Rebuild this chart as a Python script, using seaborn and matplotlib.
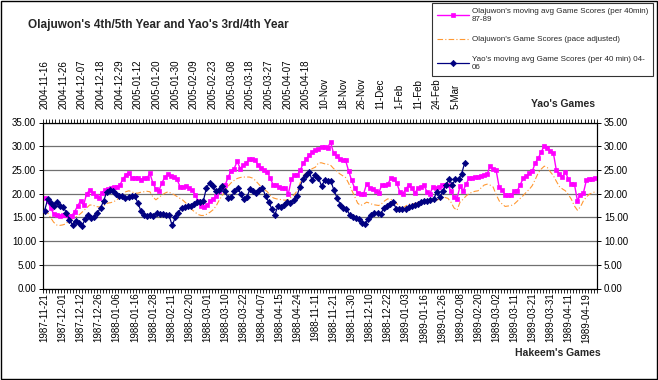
import numpy as np
import pandas as pd
import matplotlib
matplotlib.use('Agg')
import matplotlib.pyplot as plt
import seaborn as sns
from matplotlib.patches import Rectangle

# category labels (every 6th game)
hakeem_dates = ['1987-11-21', '1987-12-01', '1987-12-12', '1987-12-26', '1988-01-06',
                '1988-01-16', '1988-01-28', '1988-02-11', '1988-02-20', '1988-03-01',
                '1988-03-10', '1988-03-22', '1988-04-07', '1988-04-15', '1988-04-24',
                '1988-11-11', '1988-11-21', '1988-11-30', '1988-12-10', '1988-12-22',
                '1989-01-03', '1989-01-16', '1989-01-26', '1989-02-08', '1989-02-20',
                '1989-03-02', '1989-03-11', '1989-03-21', '1989-03-31', '1989-04-11',
                '1989-04-19']
yao_dates = ['2004-11-16', '2004-11-26', '2004-12-07', '2004-12-18', '2004-12-29',
             '2005-01-12', '2005-01-20', '2005-01-30', '2005-02-09', '2005-02-23',
             '2005-03-08', '2005-03-18', '2005-03-27', '2005-04-07', '2005-04-18',
             '10-Nov', '18-Nov', '26-Nov', '11-Dec', '1-Feb', '11-Feb', '24-Feb', '5-Mar']
n_yao_axis = 178

# Olajuwon moving avg game scores (per 40 min) 87-89
hakeem_avg = [19.1, 18.4, 17.0, 15.8, 15.4, 15.2, 15.5, 15.6, 15.3, 15.3, 16.2, 17.4, 18.5, 17.6,
              20.0, 20.7, 20.2, 19.5, 19.0, 20.2, 20.7, 21.0, 21.2,
              21.3, 21.5, 21.8, 23.0, 24.0, 24.4, 23.4, 23.3, 23.4, 22.9, 23.4, 23.2, 24.3, 22.2,
              21.0, 20.6, 22.3, 23.5, 24.1, 23.8, 23.5, 23.0,
              21.5, 21.5, 21.6, 21.2, 20.8, 19.8, 18.5, 17.5, 17.2, 17.6, 18.5, 18.8, 19.5, 20.5,
              21.3, 21.8, 23.5, 24.8, 25.3, 26.8, 25.3, 26.0,
              26.5, 27.3, 27.4, 27.0, 26.0, 25.4, 24.9, 24.6, 23.2, 21.8, 21.8, 21.4, 21.1, 21.1,
              20.0, 23.0, 23.9, 24.0, 25.0, 26.5, 27.4, 28.2, 28.8, 29.2, 29.4, 29.9, 29.8, 29.6,
              30.9, 28.5, 28.0, 27.3, 27.0, 27.0, 24.8, 22.8, 21.2, 20.2, 20.0, 20.0, 22.1, 21.2,
              21.0, 20.5,
              20.1, 21.8, 21.8, 22.0, 23.2, 23.0, 22.2, 20.4, 20.0, 21.0, 21.8, 21.1, 20.1, 21.1,
              21.4, 21.9, 20.4, 20.0, 21.4, 21.2, 21.4, 21.8, 21.9, 21.9, 20.5, 19.3, 18.9, 21.6,
              20.5, 22.0, 23.2, 23.4, 23.5, 23.6, 23.8, 24.0, 24.1, 25.8, 25.1, 24.9, 21.4, 20.8,
              19.8, 19.7,
              19.7, 20.5, 20.6, 21.9, 23.2, 23.7, 24.3, 24.7, 26.5, 27.5, 28.8, 30.1, 29.7, 29.0,
              28.6, 24.9, 24.2, 23.5, 24.6, 23.0, 22.1, 22.0, 18.5, 19.8, 20.2, 22.9, 23.0, 23.1,
              23.2]

# Olajuwon game scores (pace adjusted)
hakeem_pace = [16.5, 16.0, 15.0, 14.0, 13.4, 13.3, 13.4, 13.6, 14.2, 14.6, 15.0, 15.3, 15.8, 16.4,
               17.0, 17.6, 17.6, 17.3, 17.2, 17.2, 17.6, 18.0, 18.1,
               18.3, 18.7, 19.2, 19.8, 20.4, 20.6, 20.4, 20.1, 20.1, 20.3, 20.4, 20.5, 20.4, 19.3,
               18.7, 19.2, 19.7, 20.1, 20.4, 20.1, 19.8, 19.4, 19.0, 18.6, 18.0, 17.2, 16.6, 16.1,
               15.6, 15.4, 15.4, 15.7, 16.1, 16.6, 17.4, 18.6, 19.6, 20.6, 21.6, 22.3, 22.8, 23.2,
               23.4, 23.5,
               23.5, 23.5, 23.3, 22.8, 22.1, 21.4, 20.9, 20.4, 19.6, 19.1, 18.9, 18.8, 18.7, 18.6,
               18.8, 19.3, 19.8, 20.7, 22.4, 23.8, 24.4, 24.9, 25.3, 25.6, 26.5, 26.5, 26.3, 26.2,
               26.0, 25.3, 24.8, 24.2, 23.8, 23.4, 22.2, 20.8, 19.4, 18.0, 17.5, 17.8, 18.2, 18.0,
               17.7, 17.6,
               17.5, 17.9, 18.5, 18.9, 18.8, 18.5, 17.9, 17.3, 17.0, 17.4, 17.8, 17.9, 17.9, 18.1,
               18.3, 18.4, 18.6, 18.5, 18.5, 18.6, 18.8, 19.0, 19.2, 19.0, 18.2, 17.0, 16.5, 18.2,
               18.8, 19.5, 20.0, 20.3, 20.5, 20.6, 21.2, 21.8, 22.0, 21.8, 21.4, 19.8, 18.5, 17.8,
               17.3, 17.4,
               17.5, 17.8, 18.4, 19.0, 19.6, 20.3, 20.9, 21.7, 23.0, 24.4, 25.2, 25.8, 25.5, 24.6,
               23.8, 22.6, 21.5, 21.0, 20.6, 19.8, 18.8, 17.4, 16.5, 17.2, 18.5, 19.3, 19.9, 20.2,
               20.4]

# Yao moving avg game scores (per 40 min) 04-06
yao_avg = [16.4, 18.8, 18.0, 17.5, 18.3, 17.3, 17.2, 16.0, 14.5, 13.4, 14.3, 13.8, 13.1, 14.6,
           15.4, 14.9, 15.1, 16.0, 17.0, 18.5, 20.4, 20.8, 20.5, 20.0, 19.6, 19.4, 19.1, 19.2,
           19.5, 19.5, 18.0, 16.3, 15.6, 15.3, 15.4, 15.3, 15.9, 15.8, 15.7, 15.5, 15.4, 13.3,
           15.0, 16.0, 17.0, 17.2, 17.3, 17.4, 17.8, 18.2, 18.3, 18.4, 21.2, 22.3, 21.6, 20.6,
           20.8, 21.6, 20.5, 19.0, 19.2, 20.5, 21.2, 20.0, 18.9, 19.2, 21.0, 20.5, 20.2, 20.7,
           21.2, 19.5, 18.3, 16.8, 15.6, 17.4, 17.2, 17.6, 18.2, 18.1, 18.6, 19.4, 21.3, 23.0,
           24.0, 24.6, 22.8, 23.9, 23.3, 21.6, 22.8, 22.7, 22.6, 20.7, 19.1, 17.7, 17.0, 16.8,
           15.6, 15.1, 14.9, 14.6, 13.8, 13.5, 14.7, 15.6, 16.0, 16.0, 15.8, 16.9, 17.5, 17.8,
           18.2, 16.8, 16.7, 16.7, 16.7, 17.2, 17.4, 17.6, 17.8, 18.2, 18.4, 18.5, 18.6, 18.8,
           20.4, 19.3, 20.5, 21.9, 23.0, 21.9, 23.0, 23.0, 24.2, 26.5]

df_h = pd.DataFrame({'game': np.arange(len(hakeem_avg)), 'avg': hakeem_avg, 'pace': hakeem_pace})
df_y = pd.DataFrame({'game': np.arange(len(yao_avg)), 'avg': yao_avg})

sns.set_theme(style='white')
plt.rcParams['font.family'] = ['Liberation Sans', 'DejaVu Sans']

fig = plt.figure(figsize=(6.58, 3.80), dpi=100)
fig.patch.set_facecolor('white')
ax = fig.add_axes([43 / 658, 1 - 288.5 / 380, (597 - 43) / 658, (288.5 - 122.5) / 380])
ax_top = ax.twiny()

sns.lineplot(data=df_h, x='game', y='pace', ax=ax, color='#FF9933', linewidth=0.8,
             linestyle=(0, (5, 2, 1, 2)), errorbar=None, zorder=3,
             label="Olajuwon's Game Scores (pace adjusted)")
sns.lineplot(data=df_h, x='game', y='avg', ax=ax, color='#FF00FF', linewidth=1.0,
             marker='s', markersize=3.3, markeredgecolor='#FF00FF', markeredgewidth=0.5,
             errorbar=None, zorder=4,
             label="Olajuwon's moving avg Game Scores (per 40min)\n87-89")
sns.lineplot(data=df_y, x='game', y='avg', ax=ax_top, color='#000080', linewidth=0.9,
             marker='D', markersize=3.2, markeredgecolor='#000080', markeredgewidth=0.5,
             errorbar=None, zorder=4,
             label="Yao's moving avg Game Scores (per 40 min) 04-\n06")

# y axis, both sides
ax.set_ylim(0, 35)
ax.set_yticks(np.arange(0, 36, 5))
ax.set_yticklabels([f'{v:.2f}' for v in np.arange(0, 36, 5)])
ax.tick_params(axis='y', labelsize=7, length=3, width=0.7, direction='out', pad=2,
               left=True, right=True, labelleft=True, labelright=True, colors='black')
ax.yaxis.grid(True, color='#707070', linewidth=0.9)
ax.set_axisbelow(True)
ax.set_xlabel('')
ax.set_ylabel('')

# bottom axis: Hakeem's games
n_h = len(hakeem_avg)
ax.set_xlim(-0.5, n_h - 0.5)
ax.set_xticks(np.arange(0, 6 * len(hakeem_dates), 6))
ax.set_xticklabels(hakeem_dates, rotation=90, fontsize=7)
ax.set_xticks(np.arange(-0.5, n_h, 1), minor=True)
ax.tick_params(axis='x', which='major', length=0, pad=3, bottom=True, colors='black')
ax.tick_params(axis='x', which='minor', length=3, width=0.6, direction='out', bottom=True,
               color='black')

# top axis: Yao's games
ax_top.set_xlim(-0.5, n_yao_axis - 0.5)
ax_top.set_xticks(np.arange(0, 6 * len(yao_dates), 6))
ax_top.set_xticklabels(yao_dates, rotation=90, fontsize=7)
ax_top.set_xticks(np.arange(-0.5, n_yao_axis, 1), minor=True)
ax_top.tick_params(axis='x', which='major', length=0, pad=10, top=True, colors='black')
ax_top.tick_params(axis='x', which='minor', length=3, width=0.6, direction='out', top=True,
                   color='black')
ax_top.set_xlabel('')
ax_top.set_ylabel('')

for a in (ax, ax_top):
    for s in a.spines.values():
        s.set_visible(True)
        s.set_color('black')
        s.set_linewidth(0.8)

# legend
h1, l1 = ax.get_legend_handles_labels()
h2, l2 = ax_top.get_legend_handles_labels()
ax.get_legend().remove()
ax_top.get_legend().remove()
handles = [h1[1], h1[0], h2[0]]
labels = [l1[1], l1[0], l2[0]]
leg = fig.legend(handles, labels, loc='upper right', bbox_to_anchor=(653 / 658, 1 - 3 / 380),
                 bbox_transform=fig.transFigure, fontsize=5.8, frameon=True, fancybox=False,
                 handlelength=3.9, handletextpad=0.4, labelspacing=1.6, borderpad=0.6,
                 borderaxespad=0)
leg.get_frame().set_edgecolor('black')
leg.get_frame().set_linewidth(0.8)

fig.text(28 / 658, 1 - 25 / 380, "Olajuwon's 4th/5th Year and Yao's 3rd/4th Year",
         fontsize=8.5, fontweight='bold', ha='left', va='center')
fig.text(563 / 658, 1 - 104 / 380, "Yao's Games", fontsize=7.5, fontweight='bold',
         ha='center', va='center')
fig.text(558 / 658, 1 - 353 / 380, "Hakeem's Games", fontsize=7.5, fontweight='bold',
         ha='center', va='center')

fig.add_artist(Rectangle((0.001, 0.002), 0.997, 0.995, transform=fig.transFigure,
                         fill=False, edgecolor='black', linewidth=1))

fig.savefig('out.png', dpi=100)
